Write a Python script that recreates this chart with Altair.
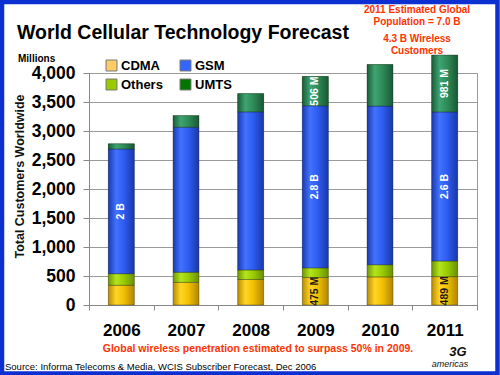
import altair as alt
import pandas as pd

# ---- data ----
years = ["2006", "2007", "2008", "2009", "2010", "2011"]
cdma = [340, 390, 440, 475, 485, 489]
others = [200, 175, 165, 165, 210, 270]
gsm = [2150, 2500, 2725, 2795, 2735, 2570]
umts = [90, 200, 315, 506, 715, 981]

stack_order = ["CDMA", "Others", "GSM", "UMTS"]
legend_order = ["CDMA", "GSM", "Others", "UMTS"]
legend_colors = ["#ffcc66", "#3366ff", "#99cc00", "#007700"]

# cylinder shading per series: left edge, highlight, body, right edge
shades = {
    "CDMA": ["#b88c00", "#ffd528", "#f2c000", "#b08600"],
    "Others": ["#6f9600", "#b4e41e", "#99cc00", "#6a8f00"],
    "GSM": ["#1a3ab0", "#4272ff", "#2d5cf0", "#1a38a8"],
    "UMTS": ["#1a5c38", "#3ea472", "#2e8b57", "#1a5836"],
}

y_ticks = [0, 500, 1000, 1500, 2000, 2500, 3000, 3500, 4000]

label_years = ["2006", "2009", "2009", "2009", "2011", "2011", "2011"]
label_series = ["GSM", "CDMA", "GSM", "UMTS", "CDMA", "GSM", "UMTS"]
label_texts = ["2 B", "475 M", "2.8 B", "506 M", "489 M", "2.6 B", "981 M"]

# ---- tables built from the arrays ----
rows = []
for i, yr in enumerate(years):
    base = 0
    for k, (s, vals) in enumerate(zip(stack_order, [cdma, others, gsm, umts])):
        v = vals[i]
        rows.append(dict(year=yr, series=s, value=v, order=k,
                         y0=base, y1=base + v, mid=base + v / 2))
        base += v
df = pd.DataFrame(rows)

lab = pd.DataFrame(dict(year=label_years, series=label_series, text=label_texts))
lab = lab.merge(df[["year", "series", "mid"]], on=["year", "series"])

FONT = "Liberation Sans"

x_scale = alt.Scale(paddingInner=0, paddingOuter=0)
x_axis = alt.Axis(title=None, labelFont=FONT, labelFontSize=17,
                  labelFontWeight="bold", labelColor="black",
                  labelPadding=12, tickBand="extent", tickSize=5,
                  tickColor="#888", domainColor="#888", labelAngle=0)

y_scale = alt.Scale(domain=[0, 4000], nice=False)
y_axis = alt.Axis(values=y_ticks, format=",d", title="Total Customers Worldwide",
                  labelFont=FONT, labelFontSize=17.5, labelFontWeight="bold",
                  labelColor="black", labelPadding=8, tickSize=6, tickColor="#888",
                  labelOverlap=False,
                  domainColor="#888", gridColor="#9a9a9a", gridWidth=1,
                  titleFont=FONT, titleFontSize=12.5, titleFontWeight="bold",
                  titleColor="#111", titleX=-70, titleY=103, titleAngle=270,
                  titleAlign="center", titleBaseline="middle")


def X():
    return alt.X("year:N", sort=years, scale=x_scale, axis=x_axis)


def Y(field):
    return alt.Y(field, scale=y_scale, axis=y_axis)


bars = alt.Chart(df).mark_bar(size=26).encode(
    x=X(),
    y=Y("y0:Q"),
    y2="y1:Q",
    color=alt.Color("series:N",
                    scale=alt.Scale(domain=legend_order, range=legend_colors),
                    legend=alt.Legend(orient="none", legendX=16, legendY=-14,
                                      columns=2, direction="horizontal", title=None,
                                      symbolType="square", symbolSize=120,
                                      symbolStrokeColor="#777", symbolStrokeWidth=1,
                                      symbolOpacity=1,
                                      labelFont=FONT, labelFontSize=13,
                                      labelFontWeight="bold", labelColor="black",
                                      columnPadding=15, rowPadding=4, labelOffset=3)),
)


def grad(cols):
    return alt.LinearGradient(
        gradient="linear", x1=0, x2=1, y1=0, y2=0,
        stops=[alt.GradientStop(color=cols[0], offset=0),
               alt.GradientStop(color=cols[1], offset=0.3),
               alt.GradientStop(color=cols[2], offset=0.6),
               alt.GradientStop(color=cols[3], offset=1)])


seg_layers = [
    alt.Chart(df).transform_filter(alt.datum.series == s).mark_bar(
        size=26, color=grad(shades[s]), stroke="#222", strokeWidth=0.6,
        strokeOpacity=0.6).encode(x=X(), y=Y("y0:Q"), y2="y1:Q")
    for s in stack_order
]


def bar_labels(cond, color):
    return alt.Chart(lab).transform_filter(cond).mark_text(
        angle=270, font=FONT, fontSize=10.5, fontWeight="bold", align="center",
        baseline="middle", color=color).encode(x=X(), y=Y("mid:Q"), text="text:N")


labels_light = bar_labels(alt.datum.series != "CDMA", "white")
labels_dark = bar_labels(alt.datum.series == "CDMA", "#1a1a1a")


def txt(text, x, y, size, color="black", weight="bold", align="left",
        style="normal", baseline="middle"):
    return alt.Chart(pd.DataFrame({"t": [text]})).mark_text(
        font=FONT, fontSize=size, fontWeight=weight, color=color, align=align,
        baseline=baseline, fontStyle=style).encode(
        text="t:N", x=alt.value(x), y=alt.value(y))


RED = "#ff3300"
texts = [
    txt("World Cellular Technology Forecast", -72, -34, 19.5, baseline="alphabetic"),
    txt("2011 Estimated Global", 328, -63, 10, color=RED, align="center"),
    txt("Population = 7.0 B", 328, -51, 10, color=RED, align="center"),
    txt("4.3 B Wireless", 328, -34, 10, color=RED, align="center"),
    txt("Customers", 328, -22, 10, color=RED, align="center"),
    txt("Millions", -71, -14, 10),
    txt("Global wireless penetration estimated to surpass 50% in 2009.", 169, 276,
        10.5, color=RED, align="center"),
    txt("Source: Informa Telecoms & Media, WCIS Subscriber Forecast, Dec 2006", -84, 297,
        9.5, weight="normal", baseline="alphabetic"),
    txt("3G", 369, 279, 13, color="#111", style="italic", align="center"),
    txt("americas", 361, 291, 9, color="#111", weight="normal", style="italic",
        align="center"),
]

frame = alt.Chart(pd.DataFrame({"a": [0]})).mark_rect(
    fill=None, stroke="#0b2fd0", strokeWidth=4.5).encode(
    x=alt.value(-87), x2=alt.value(408.5), y=alt.value(-71), y2=alt.value(300.5))

chart = alt.layer(bars, *seg_layers, labels_light, labels_dark, *texts, frame).properties(
    width=388, height=232,
    autosize=alt.AutoSizeParams(type="none"),
    padding={"left": 89, "top": 73, "right": 23, "bottom": 70},
    background="white",
).configure_view(stroke="#9a9a9a", strokeWidth=1).configure_axis(labelFont=FONT)

chart.save("out.html", embed_options={"renderer": "svg", "actions": False})
